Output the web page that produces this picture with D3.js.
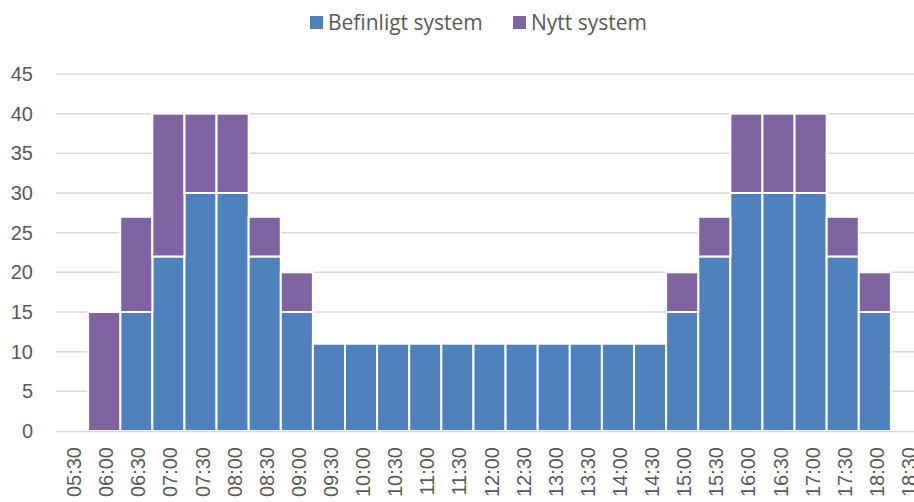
<!DOCTYPE html>
<html lang="sv">
<head>
<meta charset="UTF-8" />
<title>Befinligt / Nytt system</title>
<script src="https://cdn.jsdelivr.net/npm/d3@7"></script>
<style>
  html, body { margin: 0; padding: 0; background: #fff; overflow: hidden; }
  svg { display: block; font-family: "Open Sans", "Noto Sans", sans-serif; }
</style>
</head>
<body>
<div id="chart"></div>
<script>
// tider pa x-axeln
const times = ['05:30', '06:00', '06:30', '07:00', '07:30', '08:00', '08:30', '09:00', '09:30',
  '10:00', '10:30', '11:00', '11:30', '12:00', '12:30', '13:00', '13:30', '14:00', '14:30',
  '15:00', '15:30', '16:00', '16:30', '17:00', '17:30', '18:00', '18:30']
const befinligt = [0, 0, 15, 22, 30, 30, 22, 15, 11, 11, 11, 11, 11, 11, 11, 11, 11, 11, 11,
  15, 22, 30, 30, 30, 22, 15, 0]
const nytt = [0, 15, 12, 18, 10, 10, 5, 5, 0, 0, 0, 0, 0, 0, 0, 0, 0, 0, 0,
  5, 5, 10, 10, 10, 5, 5, 0]
const seriesNames = ['Befinligt system', 'Nytt system']
const yTicks = [0, 5, 10, 15, 20, 25, 30, 35, 40, 45]

const width = 914
const height = 502
const colors = ['#4f81bd', '#8064a2']
const textColor = '#595959'
const gridColor = '#d9d9d9'

const svg = d3.select('#chart').append('svg')
  .attr('width', width)
  .attr('height', height)

// plot area runs a little past the right edge, like the cropped original
const x = d3.scaleBand().domain(times).range([56, 923]).padding(0)
const y = d3.scaleLinear().domain([0, 45]).range([431, 74])

// gridlines
svg.append('g')
  .selectAll('line')
  .data(yTicks.filter(d => d > 0))
  .join('line')
  .attr('x1', 56)
  .attr('x2', 923)
  .attr('y1', d => y(d))
  .attr('y2', d => y(d))
  .attr('stroke', gridColor)
  .attr('stroke-width', 1.5)

// y axis labels
const yAxis = svg.append('g')
  .attr('transform', 'translate(56,0)')
  .call(d3.axisLeft(y).tickValues(yTicks).tickSize(0).tickPadding(23))
yAxis.select('.domain').remove()
yAxis.selectAll('text')
  .attr('fill', textColor)
  .style('font-size', '20px')

// stacked bars
const rows = times.map((t, i) => ({ time: t, b: befinligt[i], n: nytt[i] }))
const stack = d3.stack().keys(['b', 'n'])(rows)

svg.append('g')
  .selectAll('g')
  .data(stack)
  .join('g')
  .attr('fill', (d, i) => colors[i])
  .selectAll('rect')
  .data(d => d.filter(p => p[1] - p[0] > 0))
  .join('rect')
  .attr('x', d => x(d.data.time))
  .attr('width', x.bandwidth())
  .attr('y', d => y(d[1]))
  .attr('height', d => y(d[0]) - y(d[1]))
  .attr('stroke', '#fff')
  .attr('stroke-width', 2)

// x axis
const xAxis = svg.append('g')
  .attr('transform', `translate(0,${y(0)})`)
  .call(d3.axisBottom(x).tickSize(0).tickPadding(0))
xAxis.select('.domain')
  .attr('stroke', gridColor)
  .attr('stroke-width', 1.5)
xAxis.selectAll('text')
  .attr('fill', textColor)
  .style('font-size', '20px')
  .attr('text-anchor', 'end')
  .attr('dy', null)
  .attr('transform', 'translate(9,16) rotate(-90)')

// legend
const legendX = [310, 513]
const legend = svg.append('g')
  .selectAll('g')
  .data(seriesNames)
  .join('g')
  .attr('transform', (d, i) => `translate(${legendX[i]},0)`)
legend.append('rect')
  .attr('x', 0)
  .attr('y', 16)
  .attr('width', 13)
  .attr('height', 13)
  .attr('fill', (d, i) => colors[i])
legend.append('text')
  .attr('x', 18)
  .attr('y', 30)
  .attr('fill', textColor)
  .style('font-size', '21px')
  .text(d => d)
</script>
</body>
</html>
